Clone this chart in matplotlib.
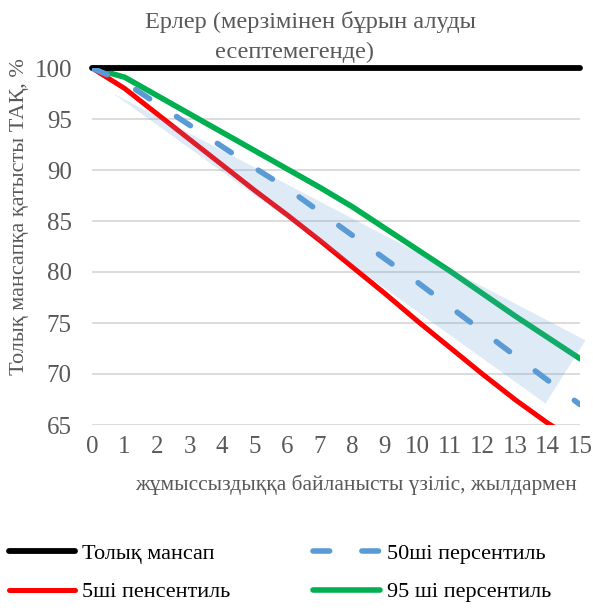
import matplotlib
matplotlib.use("Agg")
import matplotlib.pyplot as plt
import numpy as np

# Years of unemployment-related career break
years = list(range(0, 16))
year_labels = [str(y) for y in years]

# Pension as % of a full career
full_career = [100] * 16
p5 = [100, 98.0, 95.5, 93.0, 90.5, 88.0, 85.6, 83.1, 80.5, 77.9, 75.2, 72.6, 70.0, 67.5, 65.2, 63.2]
p50 = [100, 98.6, 96.5, 94.4, 92.3, 90.2, 88.2, 85.9, 83.6, 81.3, 79.0, 76.6, 74.2, 71.8, 69.4, 67.0]
p95 = [100, 99.1, 97.3, 95.5, 93.7, 91.9, 90.1, 88.3, 86.4, 84.3, 82.2, 80.1, 77.9, 75.7, 73.6, 71.5]

# Highlighted band around the median path (triangle in data coordinates)
band_x = [0.65, 15.17, 13.94]
band_y = [97.5, 73.3, 67.1]

y_ticks = [65, 70, 75, 80, 85, 90, 95, 100]

series_names = ["Толық мансап", "5ші пенсентиль", "50ші персентиль", "95 ші персентиль"]
title_line1 = "Ерлер (мерзімінен бұрын алуды"
title_line2 = "есептемегенде)"
x_title = "жұмыссыздыққа байланысты үзіліс, жылдармен"
y_title = "Толық мансапқа қатысты ТАҚ, %"

plt.rcParams["font.family"] = ["Liberation Serif", "DejaVu Serif"]

W, H = 593, 608
fig = plt.figure(figsize=(W / 100, H / 100), dpi=100)
ax = fig.add_axes([92 / W, 1 - 425 / H, (580 - 92) / W, (425 - 68) / H])

grey = "#595959"
lw = 3.6

ax.set_xlim(0, 15)
ax.set_ylim(65, 100)
ax.set_yticks(y_ticks)
ax.set_xticks(years)
ax.set_xticklabels(year_labels)
ax.grid(axis="y", color="#d9d9d9", linewidth=1.3)
ax.set_axisbelow(True)
for s in ax.spines.values():
    s.set_visible(False)
ax.tick_params(axis="both", length=0, labelsize=18, labelcolor=grey)
ax.tick_params(axis="x", pad=8)
ax.tick_params(axis="y", pad=14.5)

h_full, = ax.plot(years, full_career, color="black", lw=lw + 0.6,
                  solid_capstyle="round", clip_on=False, zorder=5)
h5, = ax.plot(years, p5, color="#ff0000", lw=lw, solid_capstyle="round", zorder=3)
h95, = ax.plot(years, p95, color="#00b050", lw=lw + 0.4, solid_capstyle="round", zorder=3)
h50, = ax.plot(years, p50, color="#5b9bd5", lw=lw + 0.4, dashes=(3.0, 5.8),
               dash_capstyle="round", zorder=6)

ax.fill(band_x, band_y, color="#5b9bd5", alpha=0.2, lw=0, zorder=4, clip_on=False)

fig.text(310 / W, 1 - 22 / H, title_line1, ha="center", va="center",
         fontsize=17.6, color=grey)
fig.text(295 / W, 1 - 52 / H, title_line2, ha="center", va="center",
         fontsize=17.6, color=grey)
fig.text(356 / W, 1 - 485 / H, x_title, ha="center", va="center",
         fontsize=15.4, color=grey)
fig.text(20 / W, 1 - 217 / H, y_title, ha="center", va="center",
         rotation=90, fontsize=16, color=grey)

leg = fig.legend([h_full, h5, h50, h95], series_names, ncol=2,
                 loc="upper left", bbox_to_anchor=(-7 / W, 1 - 528 / H),
                 frameon=False, fontsize=16, handlelength=3.0,
                 handletextpad=0.3, columnspacing=3.75, labelspacing=0.8,
                 borderpad=0.2)

fig.savefig("out.png", dpi=100)
